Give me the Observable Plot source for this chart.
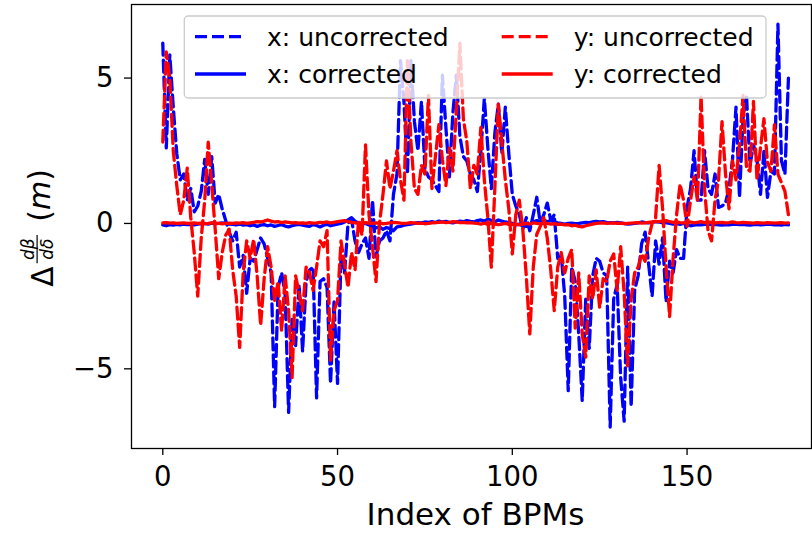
<!DOCTYPE html>
<html>
<head>
<meta charset="utf-8">
<script src="https://cdn.jsdelivr.net/npm/d3@7"></script>
<script src="https://cdn.jsdelivr.net/npm/@observablehq/plot@0.6"></script>
<style>
  html, body { margin: 0; padding: 0; background: white; }
  #chart svg { display: block; }
</style>
</head>
<body>
<div id="chart"></div>
<script>
// Index of BPMs: 0..179 (array position = index)
const xTicks = [0, 50, 100, 150];
const yTicks = [-5, 0, 5];

const xUncorrected = [
  6.2, 2.6, 5.8, 4.0, 2.4, 1.5, 1.7, 0.8, 1.2, 0.4,
  0.6, 1.1, 2.2, 1.0, 2.3, 0.7, 1.0, 0.5, 0.1, -0.3,
  -0.6, -0.3, -1.5, -1.1, -2.4, -1.2, -1.3, -0.9, -0.5, -0.7,
  -1.2, -1.7, -6.3, -2.2, -1.7, -2.4, -6.5, -3.3, -4.2, -2.1,
  -4.4, -2.0, -1.6, -1.5, -6.0, -2.0, -1.9, -2.2, -5.5, -2.7,
  -5.5, -1.1, -1.7, 0.0, 0.15, -0.6, -1.0, -0.7, -0.5, -1.2,
  0.8, -1.15, -0.6, -0.5, -0.25, -0.6, 1.0, 1.7, 5.6, 4.2,
  1.7, 5.6, 3.5, 2.5, 4.2, 1.9, 1.6, 1.5, 1.3, 1.1,
  5.1, 3.3, 1.6, 3.8, 5.1, 3.0, 2.3, 2.15, 1.7, 1.5,
  1.1, 2.5, 4.3, 2.6, 1.2, 3.1, 4.1, 2.4, 4.0, 2.4,
  1.0, 0.6, 0.3, -0.2, 0.2, -0.25, 0.3, 0.9, 0.0, 0.3,
  0.7, 0.1, 0.3, -1.2, -1.1, -2.5, -5.75, -1.5, -2.0, -3.8,
  -6.1, -2.6, -4.3, -1.8, -1.2, -1.3, -1.7, -1.8, -7.0, -2.6,
  -2.1, -5.3, -6.8, -1.5, -6.3, -2.3, -1.8, -0.7, -0.3, -1.4,
  -2.5, -0.6, -1.4, -0.5, -2.7, -1.3, -1.7, -0.9, -1.2, -1.2,
  0.55, 1.2, 2.5, 0.8, 0.8, 2.5, 1.2, 1.0, 1.7, 0.55,
  0.6, 0.7, 1.2, 2.2, 4.0, 0.9, 3.6, 4.4, 2.0, 2.7,
  2.2, 1.0, 2.5, 0.9, 1.8, 1.7, 6.85, 2.15, 1.7, 5.0
];

const xCorrected = [
  -0.05, -0.08, -0.04, -0.06, -0.03, -0.05, -0.02, -0.04, -0.03, -0.05,
  -0.02, -0.01, 0.0, -0.02, 0.01, -0.01, 0.0, 0.02, 0.0, -0.02,
  -0.03, -0.05, -0.02, -0.06, -0.04, -0.08, -0.05, -0.1, -0.06, -0.04,
  -0.08, -0.05, -0.1, -0.07, -0.04, -0.09, -0.12, -0.08, -0.05, -0.03,
  -0.06, -0.08, -0.1, -0.04, -0.07, -0.12, -0.06, -0.03, -0.08, -0.05,
  -0.02, 0.0, 0.05, 0.12, 0.2, 0.08, 0.02, -0.02, 0.0, -0.05,
  -0.1, -0.15, -0.12, -0.2, -0.14, -0.18, -0.25, -0.12, -0.1, -0.06,
  -0.04, -0.02, 0.0, 0.03, 0.02, 0.05, 0.04, 0.06, 0.03, 0.08,
  0.05, 0.07, 0.04, 0.02, 0.05, 0.08, 0.06, 0.1, 0.07, 0.05,
  0.1, 0.12, 0.08, 0.15, 0.1, 0.06, 0.12, 0.08, 0.05, 0.03,
  0.0, -0.05, -0.02, -0.08, -0.1, -0.06, 0.05, 0.1, 0.08, 0.12,
  0.06, 0.1, 0.05, 0.02, 0.0, -0.02, 0.0, 0.01, -0.01, 0.0,
  0.02, 0.04, 0.03, 0.05, 0.07, 0.05, 0.06, 0.04, 0.03, 0.02,
  0.04, 0.02, 0.0, -0.02, -0.01, 0.0, 0.02, 0.05, 0.03, 0.02,
  0.04, 0.06, 0.05, 0.02, 0.03, 0.0, -0.02, -0.01, -0.03, 0.0,
  -0.05, -0.08, -0.06, -0.04, -0.05, -0.03, -0.02, -0.04, -0.03, -0.05,
  -0.06, -0.04, -0.05, -0.03, -0.02, -0.04, -0.03, -0.05, -0.06, -0.04,
  -0.03, -0.05, -0.04, -0.02, -0.03, -0.05, -0.04, -0.06, -0.03, -0.05
];

const yUncorrected = [
  2.8, 5.9, 5.0, 2.5, 1.3, 0.3, 0.8, 1.9, 0.2, -1.0,
  -2.5, -0.5, 0.8, 2.8, 1.35, -0.2, -1.9, -1.0, -0.4, -0.2,
  -1.6, -2.5, -4.26, -1.7, -0.6, -1.2, -0.55, -1.8, -3.5, -1.9,
  -0.8, -1.5, -2.65, -2.0, -3.7, -1.8, -3.0, -5.3, -1.8, -2.4,
  -3.0, -1.5, -1.7, -2.3, -1.5, -0.6, -0.8, -0.25, -4.7, -3.0,
  -2.65, -0.6, -1.4, -2.2, -1.0, -1.6, 0.1, -0.4, 2.7, 0.3,
  -0.8, -2.0, 0.0, 1.0, 2.15, 1.2, 1.8, 2.5, 1.5, 0.8,
  5.6, 2.8, 1.2, 1.0, 2.0, 1.7, 4.4, 1.2, 2.3, 3.4,
  2.2, 1.3, 2.6, 1.8, 3.9, 6.2, 3.6, 2.8, 1.2, 2.0,
  1.7, 3.3, 1.5, 0.2, -1.5, 1.2, 4.1, 2.8, 1.5, 0.5,
  -1.05, 0.3, 0.8, -0.2, -1.8, -3.8, -1.5, -0.37, -0.1, 0.2,
  -0.5, -1.6, -3.0, -1.5, -1.0, -1.7, -1.2, -0.9, -3.6, -1.7,
  -3.8, -4.6, -1.8, -2.6, -1.6, -2.9, -1.9, -2.0, -1.3, -1.05,
  -2.3, -0.8, -2.4, -4.9, -2.6, -1.7, -1.5, -1.05, -1.3, -0.5,
  0.0, 0.2, 2.0, 0.5, -1.5, -3.2, -1.2, 0.3, 1.35, 0.8,
  -0.1, 0.8, 1.6, 0.8, 4.4, 1.2, -0.25, -0.6, 0.8, 1.5,
  3.5, 1.7, 0.5, 2.15, 1.5, 2.7, 4.4, 1.9, 1.8, 4.2,
  1.5, 2.6, 3.6, 2.1, 1.8, 3.4, 1.7, 1.4, 1.1, 0.3
];

const yCorrected = [
  0.02, 0.03, 0.01, 0.02, 0.0, 0.01, 0.02, 0.0, 0.01, 0.02,
  0.0, 0.01, -0.01, 0.0, 0.02, 0.01, 0.0, -0.01, 0.0, 0.01,
  0.0, 0.02, 0.01, 0.03, 0.0, 0.02, 0.04, 0.06, 0.05, 0.08,
  0.12, 0.08, 0.05, 0.06, 0.03, 0.05, 0.04, 0.02, 0.03, 0.01,
  0.02, 0.0, 0.03, 0.01, 0.02, 0.04, 0.03, 0.05, 0.02, 0.04,
  0.06, 0.08, 0.1, 0.06, 0.04, 0.02, 0.0, 0.02, 0.03, 0.01,
  0.0, 0.02, 0.01, -0.01, 0.0, 0.02, 0.04, 0.03, 0.01, 0.0,
  0.01, 0.03, 0.02, 0.0, 0.01, -0.01, 0.0, 0.02, 0.03, 0.04,
  0.05, 0.03, 0.04, 0.06, 0.05, 0.03, 0.04, 0.02, 0.03, 0.01,
  0.0, -0.02, 0.01, -0.03, 0.0, -0.02, -0.04, -0.02, 0.0, -0.03,
  -0.04, -0.02, -0.05, -0.03, 0.0, -0.02, 0.02, 0.0, -0.01, 0.01,
  0.0, -0.02, -0.01, -0.03, -0.02, -0.05, -0.04, -0.08, -0.06, -0.1,
  -0.12, -0.08, -0.05, -0.02, 0.0, 0.01, 0.02, 0.0, 0.01, 0.02,
  0.0, 0.01, -0.01, 0.0, 0.01, 0.02, 0.03, 0.01, 0.02, 0.04,
  0.05, 0.07, 0.06, 0.08, 0.1, 0.06, 0.04, 0.05, 0.03, 0.02,
  0.03, 0.05, 0.02, 0.04, 0.06, 0.03, 0.05, 0.04, 0.02, 0.03,
  0.04, 0.02, 0.03, 0.05, 0.03, 0.02, 0.04, 0.03, 0.02, 0.01,
  0.03, 0.02, 0.01, 0.03, 0.02, 0.01, 0.02, 0.03, 0.01, 0.02
];

const seriesLabels = ["x: uncorrected", "x: corrected", "y: uncorrected", "y: corrected"];
const xLabel = "Index of BPMs";

const BLUE = "#0000ff", RED = "#ff0000";
const DASH = "12,5";
const LW = 3.3;

const minus = d => (d < 0 ? "\u2212" + Math.abs(d) : String(d));

const plot = Plot.plot({
  width: 812,
  height: 533,
  marginLeft: 131,
  marginRight: 1,
  marginTop: 4,
  marginBottom: 85,
  style: { fontFamily: "DejaVu Sans", fontSize: "27px", background: "white", color: "black" },
  x: { domain: [-8.95, 185.6] },
  y: { domain: [-7.74, 7.53] },
  marks: [
    Plot.lineY(xUncorrected, { stroke: BLUE, strokeWidth: LW, strokeDasharray: DASH }),
    Plot.lineY(xCorrected, { stroke: BLUE, strokeWidth: LW }),
    Plot.lineY(yUncorrected, { stroke: RED, strokeWidth: LW, strokeDasharray: DASH }),
    Plot.lineY(yCorrected, { stroke: RED, strokeWidth: LW }),
    Plot.axisX({ ticks: xTicks, tickSize: 7, tickPadding: 11, strokeWidth: 1.3, label: null, fontSize: 27.5 }),
    Plot.axisY({ ticks: yTicks, tickSize: 7, tickPadding: 11, strokeWidth: 1.3, label: null, tickFormat: minus, fontSize: 27.5 }),
    Plot.frame({ stroke: "black", strokeWidth: 1.3 })
  ]
});

document.getElementById("chart").appendChild(plot);

// Decorations: legend, axis titles
const svg = d3.select(plot);

// x-axis title
svg.append("text")
  .attr("x", 475.5).attr("y", 525)
  .attr("text-anchor", "middle")
  .attr("font-family", "DejaVu Sans").attr("font-size", 31)
  .attr("fill", "black")
  .text(xLabel);

// y-axis title: Δ (dβ/dδ) (m)
const yl = svg.append("g")
  .attr("transform", "translate(53.3,229) rotate(-90)")
  .attr("font-family", "DejaVu Sans").attr("fill", "black")
  .attr("text-anchor", "start");
yl.append("text").attr("x", -57.7).attr("y", 0).attr("font-size", 29.5).text("Δ");
yl.append("text").attr("x", -20.2).attr("y", -19).attr("text-anchor", "middle")
  .attr("font-size", 17).attr("font-style", "italic").text("dβ");
yl.append("line").attr("x1", -34.3).attr("x2", -6).attr("y1", -16.2).attr("y2", -16.2)
  .attr("stroke", "black").attr("stroke-width", 1.2);
yl.append("text").attr("x", -20.2).attr("y", -0.5).attr("text-anchor", "middle")
  .attr("font-size", 17).attr("font-style", "italic").text("dδ");
const pm = yl.append("text").attr("x", 7.3).attr("y", -3).attr("font-size", 30);
pm.append("tspan").text("(");
pm.append("tspan").attr("font-style", "italic").text("m");
pm.append("tspan").text(")");

// legend
const lg = svg.append("g")
  .attr("font-family", "DejaVu Sans").attr("font-size", 25)
  .attr("text-anchor", "start");
lg.append("rect")
  .attr("x", 184.3).attr("y", 16).attr("width", 581.7).attr("height", 82)
  .attr("rx", 4).attr("ry", 4)
  .attr("fill", "white").attr("fill-opacity", 0.8)
  .attr("stroke", "#cccccc").attr("stroke-width", 1.3);
const entries = [
  { label: seriesLabels[0], color: BLUE, dash: DASH, x0: 195, ly: 36.7, ty: 46 },
  { label: seriesLabels[1], color: BLUE, dash: null, x0: 195, ly: 74, ty: 83.3 },
  { label: seriesLabels[2], color: RED, dash: DASH, x0: 501.7, ly: 36.7, ty: 46 },
  { label: seriesLabels[3], color: RED, dash: null, x0: 501.7, ly: 74, ty: 83.3 }
];
for (const e of entries) {
  const l = lg.append("line")
    .attr("x1", e.x0).attr("x2", e.x0 + 51).attr("y1", e.ly).attr("y2", e.ly)
    .attr("stroke", e.color).attr("stroke-width", LW);
  if (e.dash) l.attr("stroke-dasharray", e.dash);
  lg.append("text").attr("x", e.x0 + 72).attr("y", e.ty).attr("fill", "black").text(e.label);
}
</script>
</body>
</html>
